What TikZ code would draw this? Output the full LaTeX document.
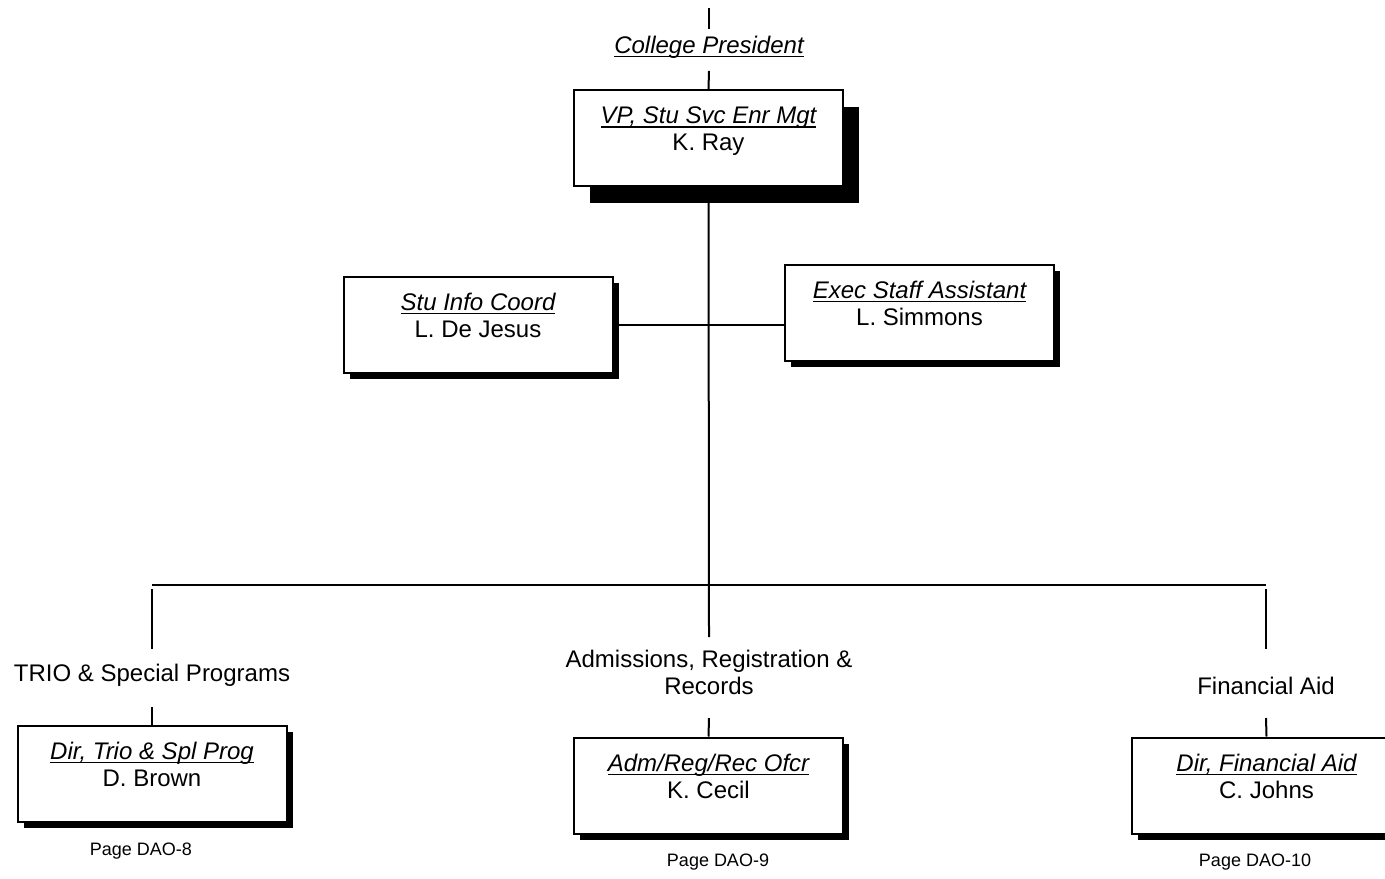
\documentclass[tikz,border=0pt]{standalone}
\usepackage{fontspec}
\setmainfont{Liberation Sans}
\usetikzlibrary{shadows}

\newcommand{\ultitle}[1]{\setbox0=\hbox{\itshape #1}\rlap{\rule[-1.9pt]{\wd0}{0.75pt}}\box0}
\newcommand{\orgpost}[2]{\parbox[c][33pt][t]{130pt}{\centering\strut\ultitle{#1}\\\strut #2}}

\tikzset{
  postbox/.style={draw, fill=white, inner sep=0pt, minimum width=134.5pt, minimum height=48pt},
  orgbox/.style={postbox, drop shadow={shadow xshift=3pt, shadow yshift=-3pt, fill=black, opacity=1}},
  topbox/.style={postbox, drop shadow={shadow xshift=8pt, shadow yshift=-8.5pt, fill=black, opacity=1}},
  unitlabel/.style={inner xsep=0pt, inner ysep=5.8pt, text height=9pt, text depth=5.4pt},
  pagelabel/.style={font=\fontsize{9}{11}\selectfont, inner sep=1pt}
}

\begin{document}
\begin{tikzpicture}[x=0.5pt, y=-0.5pt, line width=1pt, font=\fontsize{12}{13.5}\selectfont]

    \useasboundingbox (0,0) rectangle (1385,878);
    \clip (0,0) rectangle (1385,878);

    % top of the chart
    \coordinate (top) at (709,8);
    \node[unitlabel, inner ysep=2.8pt, anchor=base] (pres) at (709,53.5) {\ultitle{College President}};
    \node[topbox] (vp) at (708.5,138) {\orgpost{VP, Stu Svc Enr Mgt}{K. Ray}};

    % staff
    \node[orgbox] (stu)  at (478,324.5)   {\orgpost{Stu Info Coord}{L. De Jesus}};
    \node[orgbox] (exec) at (919.5,312.5) {\orgpost{Exec Staff Assistant}{L. Simmons}};

    % departments
    \coordinate (bar)     at (709,585);
    \coordinate (droptop) at (709,589);

    \node[unitlabel, inner ysep=6.8pt, anchor=base] (trio) at (152,681.6) {TRIO \& Special Programs};
    \node[unitlabel, align=center, text height=22.5pt, anchor=base] (adm) at (709,694.6) {Admissions, Registration \&\\Records};
    \node[unitlabel, text height=16.5pt, anchor=base] (fin) at (1266,694.6) {Financial Aid};

    \node[orgbox] (triobox) at (152,773.5)  {\orgpost{Dir, Trio \& Spl Prog}{D. Brown}};
    \node[orgbox] (admbox)  at (708.5,785.5) {\orgpost{Adm/Reg/Rec Ofcr}{K. Cecil}};
    \node[orgbox] (finbox)  at (1266.5,785.5) {\orgpost{Dir, Financial Aid}{C. Johns}};

    \node[pagelabel] (dao8)  at (141,851)  {Page DAO-8};
    \node[pagelabel] (dao9)  at (718,862)  {Page DAO-9};
    \node[pagelabel] (dao10) at (1255,862) {Page DAO-10};

    % lines
    \draw (top) -- (pres.north);
    \draw (pres.south) -- (vp.north);
    \draw (vp.south) -- (adm.north);
    \draw (stu.east) -- (exec.west |- stu.east);

    \draw (trio.north |- bar) -- (fin.north |- bar);
    \draw (trio.north |- droptop) -- (trio.north);
    \draw (fin.north |- droptop) -- (fin.north);

    \draw (trio.south) -- (triobox.north);
    \draw (adm.south)  -- (admbox.north);
    \draw (fin.south)  -- (finbox.north);

\end{tikzpicture}
\end{document}
